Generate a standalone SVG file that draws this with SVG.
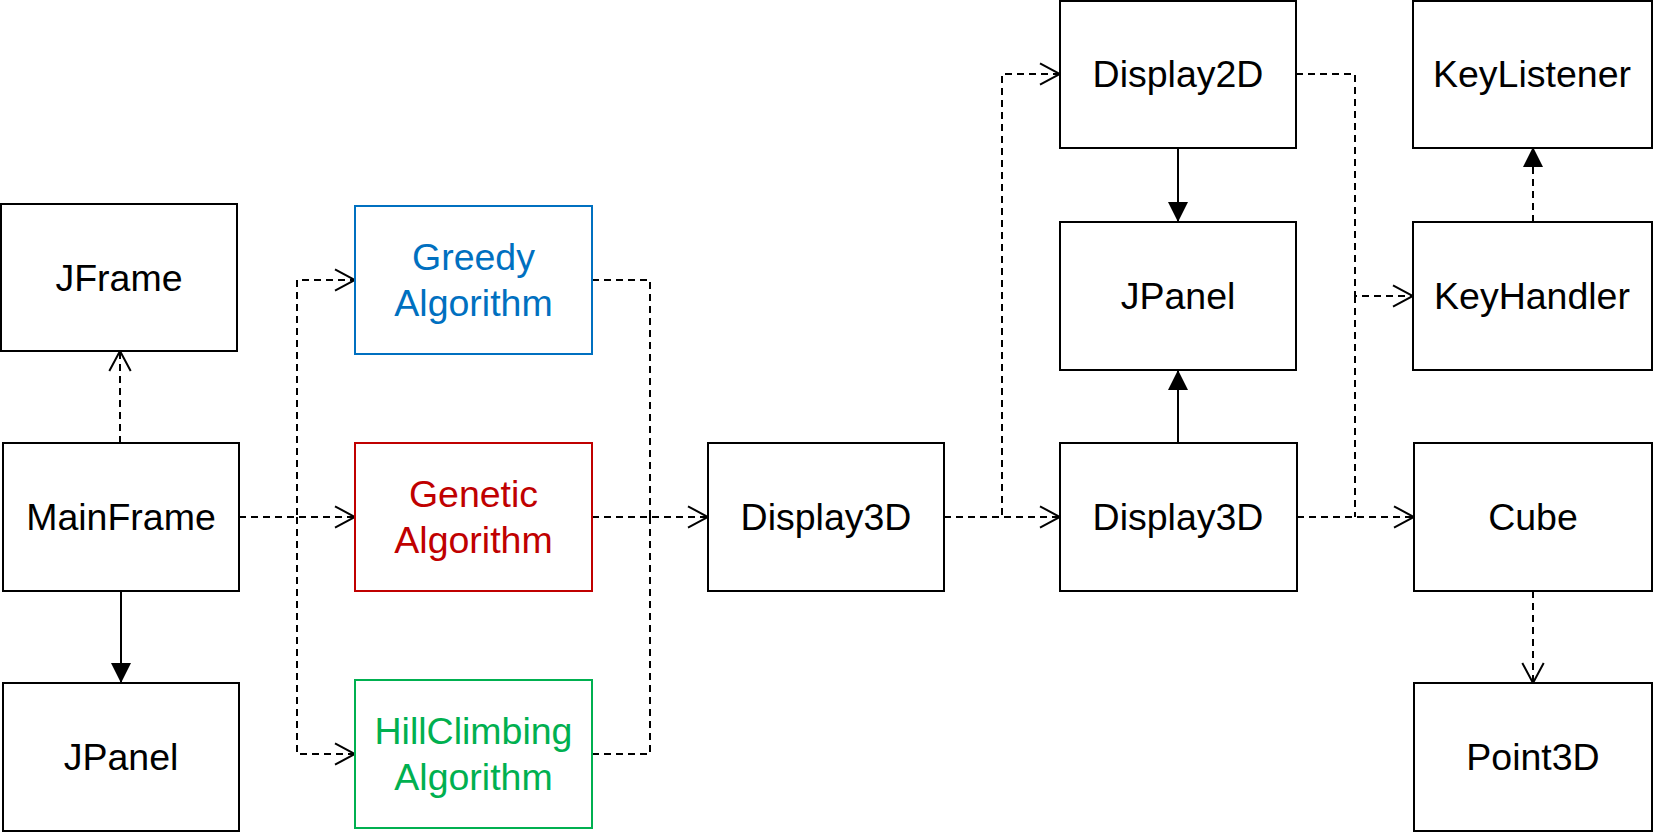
<svg xmlns="http://www.w3.org/2000/svg" width="1653" height="832" viewBox="0 0 1653 832">
<style>
.box{fill:#fff;stroke:#000;stroke-width:2}
.blue{stroke:#0070C0}
.red{stroke:#C00000}
.green{stroke:#00B050}
text{font-family:"Liberation Sans",Arial,sans-serif;font-size:37.5px;text-anchor:middle;fill:#000}
.tb{fill:#0070C0}
.tr{fill:#C00000}
.tg{fill:#00B050}
.c{fill:none;stroke:#000;stroke-width:2}
.d{stroke-dasharray:7 5}
</style>
<defs>
<marker id="open" viewBox="0 0 22 24" refX="21" refY="12" markerWidth="22" markerHeight="24" markerUnits="userSpaceOnUse" orient="auto">
<path d="M1,1.3 L21,12 L1,22.7" fill="none" stroke="#000" stroke-width="2"/>
</marker>
<marker id="fill" viewBox="0 0 20 20" refX="20" refY="10" markerWidth="20" markerHeight="20" markerUnits="userSpaceOnUse" orient="auto">
<path d="M0,0 L20,10 L0,20 Z" fill="#000"/>
</marker>
</defs>
<g id="connectors">
<path class="c d" d="M120,443 V351" marker-end="url(#open)"/>
<path class="c" d="M121,591 V683" marker-end="url(#fill)"/>
<path class="c d" d="M239,517 H297 V280 H355" marker-end="url(#open)"/>
<path class="c d" d="M239,517 H355" marker-end="url(#open)"/>
<path class="c d" d="M297,517 V754 H355" marker-end="url(#open)"/>
<path class="c d" d="M592,280 H650 V517" />
<path class="c d" d="M592,517 H708" marker-end="url(#open)"/>
<path class="c d" d="M592,754 H650 V517" />
<path class="c d" d="M944,517 H1002 V74 H1060" marker-end="url(#open)"/>
<path class="c d" d="M944,517 H1060" marker-end="url(#open)"/>
<path class="c" d="M1178,147 V222" marker-end="url(#fill)"/>
<path class="c" d="M1178,443 V370" marker-end="url(#fill)"/>
<path class="c d" d="M1296,74 H1355 V296 H1413" marker-end="url(#open)"/>
<path class="c d" d="M1355,296 V517" />
<path class="c d" d="M1297,517 H1414" marker-end="url(#open)"/>
<path class="c d" d="M1533,222 V147" marker-end="url(#fill)"/>
<path class="c d" d="M1533,591 V683" marker-end="url(#open)"/>
</g>
<g id="JFrame"><rect class="box" x="1" y="204" width="236" height="147"/><text x="119" y="291">JFrame</text></g>
<g id="MainFrame"><rect class="box" x="3" y="443" width="236" height="148"/><text x="121" y="530">MainFrame</text></g>
<g id="JPanelLeft"><rect class="box" x="3" y="683" width="236" height="148"/><text x="121" y="770">JPanel</text></g>
<g id="Greedy"><rect class="box blue" x="355" y="206" width="237" height="148"/><text class="tb" x="473.5" y="270">Greedy</text><text class="tb" x="473.5" y="316">Algorithm</text></g>
<g id="Genetic"><rect class="box red" x="355" y="443" width="237" height="148"/><text class="tr" x="473.5" y="507">Genetic</text><text class="tr" x="473.5" y="553">Algorithm</text></g>
<g id="HillClimbing"><rect class="box green" x="355" y="680" width="237" height="148"/><text class="tg" x="473.5" y="744">HillClimbing</text><text class="tg" x="473.5" y="790">Algorithm</text></g>
<g id="Display3DMid"><rect class="box" x="708" y="443" width="236" height="148"/><text x="826" y="530">Display3D</text></g>
<g id="Display2D"><rect class="box" x="1060" y="1" width="236" height="147"/><text x="1178" y="87">Display2D</text></g>
<g id="JPanelRight"><rect class="box" x="1060" y="222" width="236" height="148"/><text x="1178" y="309">JPanel</text></g>
<g id="Display3DRight"><rect class="box" x="1060" y="443" width="237" height="148"/><text x="1178" y="530">Display3D</text></g>
<g id="KeyListener"><rect class="box" x="1413" y="1" width="239" height="147"/><text x="1532" y="87">KeyListener</text></g>
<g id="KeyHandler"><rect class="box" x="1413" y="222" width="239" height="148"/><text x="1532" y="309">KeyHandler</text></g>
<g id="Cube"><rect class="box" x="1414" y="443" width="238" height="148"/><text x="1533" y="530">Cube</text></g>
<g id="Point3D"><rect class="box" x="1414" y="683" width="238" height="148"/><text x="1533" y="770">Point3D</text></g>
</svg>
